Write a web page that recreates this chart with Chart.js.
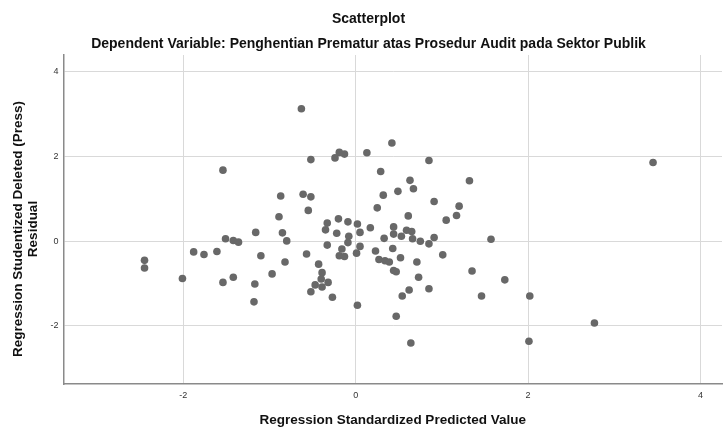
<!DOCTYPE html>
<html>
<head>
<meta charset="utf-8">
<script src="https://cdn.jsdelivr.net/npm/chart.js@4/dist/chart.umd.min.js"></script>
<style>
  html, body { margin: 0; padding: 0; background: #fff; }
  #wrap { width: 726px; height: 428px; position: relative; }
</style>
</head>
<body>
<div id="wrap"><canvas id="scatter"></canvas></div>
<script>
// standardized predicted value (x) and studentized deleted residual (y)
var predicted = [
  -1.54, -0.87, -0.89, -1.16, -0.85, -1.51, -1.42, -1.36, -0.80, -0.63,
  0.42, -0.19, -0.13, 0.13, -0.24, -0.52, 0.85, 0.29, 0.63, 0.67,
  0.49, 0.32, 0.91, -0.61, -0.52, -0.55, 0.25, 0.61, 1.05, -0.20,
  -0.09, -0.33, 0.02, -0.35, -0.22, -0.08, 0.05, 0.17, 0.44, 0.44,
  0.59, 0.65, 0.53, 0.33, 0.66, 0.91, 0.75, 3.45, 1.32, 1.20,
  1.17, 1.57, -1.88, -1.76, -1.61, -1.10, -0.82, -2.45, -2.45, -2.01,
  -1.54, -1.42, -0.97, -1.17, -1.18, 0.85, 1.01, -0.33, -0.09, 0.05,
  -0.16, 0.01, -0.19, -0.13, -0.57, 0.23, 0.43, 0.52, 0.27, 0.34,
  0.39, 0.71, 0.44, 0.47, 0.73, -0.43, -0.39, -0.40, -0.32, -0.47,
  -0.39, -0.52, -0.27, 0.02, 0.62, 0.54, 0.85, 0.47, 0.64, 1.35,
  1.73, 1.46, 2.02, 2.77, 2.01
]
var residual = [
  1.68, 1.07, 0.58, 0.21, 0.20, 0.06, 0.02, -0.02, 0.01, 3.13,
  2.32, 2.10, 2.06, 2.09, 1.97, 1.93, 1.91, 1.65, 1.44, 1.24,
  1.18, 1.09, 0.94, 1.11, 1.05, 0.73, 0.79, 0.60, 0.50, 0.53,
  0.46, 0.43, 0.41, 0.27, 0.19, 0.12, 0.21, 0.32, 0.34, 0.17,
  0.26, 0.23, 0.12, 0.07, 0.06, 0.09, 0.00, 1.86, 1.43, 0.83,
  0.61, 0.05, -0.25, -0.31, -0.24, -0.34, -0.49, -0.45, -0.63, -0.88,
  -0.97, -0.85, -0.77, -1.01, -1.43, -0.06, -0.32, -0.09, -0.03, -0.12,
  -0.18, -0.28, -0.34, -0.36, -0.30, -0.23, -0.17, -0.39, -0.43, -0.46,
  -0.49, -0.49, -0.69, -0.72, -0.85, -0.54, -0.74, -0.89, -0.97, -1.03,
  -1.08, -1.19, -1.32, -1.51, -1.15, -1.29, -1.12, -1.77, -2.40, -0.70,
  -0.91, -1.29, -1.29, -1.93, -2.36
]
var xTicks = [-2, 0, 2, 4]
var yTicks = [-2, 0, 2, 4]
var yTitle = ['Regression Studentized Deleted (Press)', 'Residual']

var points = []
for (var i = 0; i < predicted.length; i++) {
  points.push({x: predicted[i], y: residual[i]})
}

var font = "'Liberation Sans', Arial, sans-serif"
var gridColor = '#d9d9d9'
var axisColor = '#8a8a8a'

// y axis title drawn by hand: SPSS puts it a bit below the plot centre
var yTitlePlugin = {
  id: 'yTitle',
  afterDraw: function (chart) {
    var c = chart.ctx
    c.save()
    c.font = 'bold 13.5px ' + font
    c.fillStyle = '#111'
    c.textAlign = 'center'
    c.textBaseline = 'middle'
    c.translate(18, 229)
    c.rotate(-Math.PI / 2)
    c.fillText(yTitle[0], 0, 0)
    c.fillText(yTitle[1], 0, 15)
    c.restore()
  }
}

var ctx = document.getElementById('scatter').getContext('2d')
var chart = new Chart(ctx, {
  type: 'scatter',
  data: {
    datasets: [{
      data: points,
      backgroundColor: '#686868',
      borderColor: '#686868',
      borderWidth: 0,
      pointRadius: 3.8
    }]
  },
  options: {
    responsive: true,
    maintainAspectRatio: false,
    animation: false,
    layout: { padding: { left: 11 } },
    plugins: {
      legend: { display: false },
      tooltip: { enabled: false },
      title: {
        display: true,
        text: 'Scatterplot',
        color: '#111',
        font: { family: font, size: 14, weight: 'bold', lineHeight: 1.2 },
        padding: { top: 10.5, bottom: 5 }
      },
      subtitle: {
        display: true,
        text: 'Dependent Variable: Penghentian Prematur atas Prosedur Audit pada Sektor Publik',
        color: '#111',
        font: { family: font, size: 14, weight: 'bold', lineHeight: 1.2 },
        padding: { top: 3.8, bottom: 2.1 }
      }
    },
    scales: {
      x: {
        type: 'linear',
        min: -3.39,
        max: 4.25,
        afterBuildTicks: function (scale) {
          scale.ticks = xTicks.map(function (v) { return {value: v} })
        },
        afterFit: function (scale) { scale.height = 44 },
        grid: { color: gridColor, lineWidth: 1, drawTicks: false },
        border: { color: axisColor, width: 1.5 },
        ticks: {
          padding: 6,
          color: '#333',
          font: { family: font, size: 9 },
          maxRotation: 0
        },
        title: {
          display: true,
          text: 'Regression Standardized Predicted Value',
          color: '#111',
          font: { family: font, size: 13.5, weight: 'bold' },
          padding: 0
        }
      },
      y: {
        type: 'linear',
        min: -3.37,
        max: 4.40,
        afterBuildTicks: function (scale) {
          scale.ticks = yTicks.map(function (v) { return {value: v} })
        },
        afterFit: function (scale) { scale.width = 52.5 },
        grid: { color: gridColor, lineWidth: 1, drawTicks: false },
        border: { color: axisColor, width: 1.5 },
        ticks: {
          padding: 5,
          color: '#333',
          font: { family: font, size: 9 }
        }
      }
    }
  },
  plugins: [yTitlePlugin]
})
</script>
</body>
</html>
